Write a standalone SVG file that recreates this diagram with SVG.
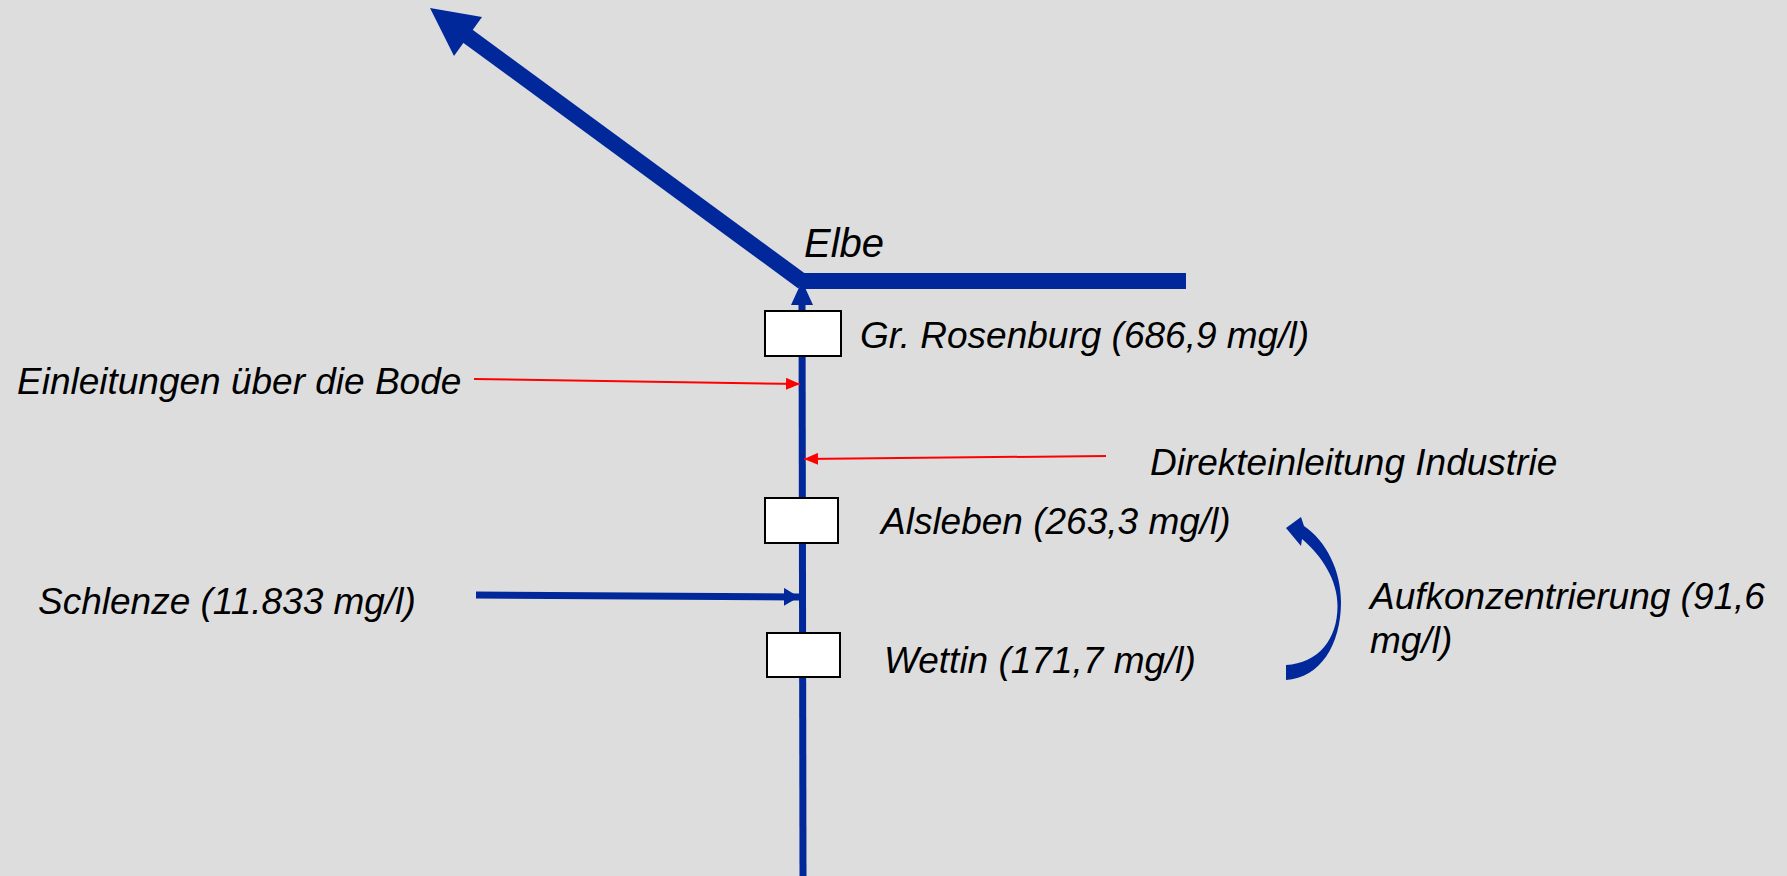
<svg xmlns="http://www.w3.org/2000/svg" width="1787" height="876" viewBox="0 0 1787 876">
<style>
.t{font-family:"Liberation Sans",Arial,sans-serif;font-style:italic;font-size:37px;fill:#000}
.blue{stroke:#00289A;fill:none}
.red{stroke:#FF0000;stroke-width:2;fill:none}
.box{fill:#FFFFFF;stroke:#000;stroke-width:2}
</style>
<defs>
<marker id="redhead" markerWidth="14" markerHeight="12" refX="14" refY="6" orient="auto" markerUnits="userSpaceOnUse">
<path d="M0,0 L14,6 L0,12 Z" fill="#FF0000"/>
</marker>
<marker id="bluehead" markerWidth="16" markerHeight="18" refX="15" refY="9" orient="auto" markerUnits="userSpaceOnUse">
<path d="M0,0 L15,9 L0,18 Z" fill="#00289A"/>
</marker>
</defs>
<rect width="1787" height="876" fill="#DDDDDD"/>
<g id="connectors">
<line class="blue" x1="803" y1="282" x2="458" y2="29" stroke-width="16"/>
<polygon points="430,8 482,17 454,56" fill="#00289A"/>
<line class="blue" x1="802" y1="281" x2="1186" y2="281" stroke-width="16"/>
<line class="blue" x1="803" y1="876" x2="802" y2="300" stroke-width="7"/>
<polygon points="802,281 813,305 791,305" fill="#00289A"/>
<line class="red" x1="474" y1="379" x2="800" y2="384" marker-end="url(#redhead)"/>
<line class="red" x1="1106" y1="456" x2="804" y2="459" marker-end="url(#redhead)"/>
<line class="blue" x1="476" y1="595" x2="799" y2="597" stroke-width="7" marker-end="url(#bluehead)"/>
<path d="M1286,680 C1320,678 1341,645 1341,602 C1341,570 1326,541 1304,526 L1301,517 L1286,528 L1301,546 L1302,539 C1322,556 1337.5,580 1337.5,606 C1337.5,640 1318,663 1286,665 Z" fill="#00289A"/>
</g>
<g id="elbe"><text class="t" x="804" y="257" style="font-size:40px">Elbe</text></g>
<g id="rosenburg">
<rect class="box" x="765" y="311" width="76" height="45"/>
<text class="t" x="860" y="348">Gr. Rosenburg (686,9 mg/l)</text>
</g>
<g id="bode"><text class="t" x="17" y="394">Einleitungen über die Bode</text></g>
<g id="industrie"><text class="t" x="1150" y="475">Direkteinleitung Industrie</text></g>
<g id="alsleben">
<rect class="box" x="765" y="498" width="73" height="45"/>
<text class="t" x="881" y="534">Alsleben (263,3 mg/l)</text>
</g>
<g id="schlenze"><text class="t" x="38" y="614">Schlenze (11.833 mg/l)</text></g>
<g id="wettin">
<rect class="box" x="767" y="633" width="73" height="44"/>
<text class="t" x="884" y="673">Wettin (171,7 mg/l)</text>
</g>
<g id="aufkonzentrierung">
<text class="t" x="1370" y="609">Aufkonzentrierung (91,6</text>
<text class="t" x="1370" y="653">mg/l)</text>
</g>
</svg>
